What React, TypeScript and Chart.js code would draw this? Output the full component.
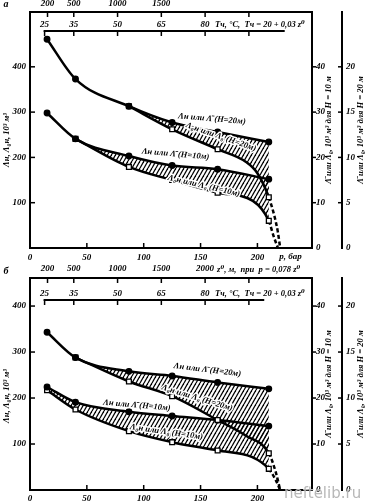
import React, { useEffect, useRef } from 'react';
import { Chart, registerables } from 'chart.js';

Chart.register(...registerables);

// ---------------- data ----------------
const pTicks = [0, 50, 100, 150, 200];
const leftTicks = [100, 200, 300, 400];
const right1Ticks = [0, 10, 20, 30, 40];
const right2Ticks = [0, 5, 10, 15, 20];
const zTicks = [200, 500, 1000, 1500, 2000, 2500];
const zLabelsA = ['200', '500', '1000', '1500', '', ''];
const zLabelsB = ['200', '500', '1000', '1500', '2000', ''];
const tTicks = [25, 35, 50, 65, 80, 95];
const tLabels = ['25', '35', '50', '65', '80', ''];
const pPerZ = 0.077; // p = 0,077 z
const T0 = 20; // Tч = 20 + 0,03 z
const TK = 0.03;
const markP = [15, 40, 87, 125, 165, 210];
const tailFromP = 210;

// panel а
const aUpper20P = [15, 40, 87, 125, 165, 210];
const aUpper20V = [461, 373, 313, 277, 256, 234];
const aLower20P = [87, 125, 165, 190, 200, 210, 215, 218, 220];
const aLower20V = [313, 262, 218, 190, 165, 112, 70, 35, 0];
const aUpper10P = [15, 40, 87, 125, 165, 210];
const aUpper10V = [298, 241, 203, 182, 174, 152];
const aLower10P = [40, 87, 125, 165, 196, 210, 214, 218];
const aLower10V = [241, 179, 150, 122, 104, 60, 28, 0];

// panel б
const bUpper20P = [15, 40, 87, 125, 165, 210];
const bUpper20V = [343, 288, 258, 248, 234, 220];
const bLower20P = [40, 87, 125, 165, 190, 210, 216, 220];
const bLower20V = [288, 236, 204, 152, 118, 80, 40, 0];
const bUpper10P = [15, 40, 87, 125, 165, 210];
const bUpper10V = [224, 191, 170, 161, 152, 139];
const bLower10P = [15, 40, 87, 125, 165, 195, 210, 216, 220];
const bLower10V = [217, 175, 128, 104, 86, 72, 46, 22, 0];

// curve labels
const labelTexts = ['Λн или Λ̄ (H=20м)', 'Λ₀н или Λ₀ (H=20м)', 'Λн или Λ̄ (H=10м)', 'Λ₀н или Λ₀ (H=10м)'];
const aLabelP = [160, 168, 128, 153];
const aLabelV = [285, 245, 207, 137];
const aLabelAngle = [5, 19, 5, 13];
const bLabelP = [156, 147, 94, 120];
const bLabelV = [261, 200, 184, 126];
const bLabelAngle = [7, 17, 5, 8];

const leftTitle = 'Λн, Λ₀н, 10³ м³';
const right1Title = 'Λ̄ или Λ₀, 10³ м³ для H = 10 м';
const right2Title = 'Λ̄ или Λ₀, 10³ м³ для H = 20 м';
const tCaption = 'Tч, °C,  Tч = 20 + 0,03 z⁰';
const zCaptionB = 'z⁰, м,  при  p = 0,078 z⁰';

// ---------------- helpers ----------------
const W = 369;
const FAMILY = "'Liberation Serif', 'DejaVu Serif', serif";
const TICK_FONT = { family: FAMILY, size: 9, style: 'italic' as const, weight: 'bold' as const };
const fontStr = (size: number) => `italic bold ${size}px ${FAMILY}`;

const xy = (ps: number[], vs: number[]) => ps.map((p, i) => ({ x: p, y: vs[i] }));

function makeHatch(): CanvasPattern | string {
  const c = document.createElement('canvas');
  const w = 4, h = 7;
  c.width = w; c.height = h;
  const g = c.getContext('2d');
  if (!g) return 'rgba(0,0,0,0.4)';
  g.strokeStyle = '#000';
  g.lineWidth = 1.25;
  for (let k = -1; k <= 1; k++) {
    g.beginPath();
    g.moveTo(k * w, h);
    g.lineTo((k + 1) * w, 0);
    g.stroke();
  }
  const pat = g.createPattern(c, 'repeat');
  return pat || 'rgba(0,0,0,0.4)';
}

function txt(ctx: CanvasRenderingContext2D, s: string, x: number, y: number, o: any = {}) {
  ctx.save();
  ctx.translate(x, y);
  ctx.rotate(((o.angle || 0) * Math.PI) / 180);
  ctx.font = fontStr(o.size || 9);
  ctx.textAlign = o.align || 'center';
  ctx.textBaseline = o.baseline || 'middle';
  if (o.halo) {
    ctx.strokeStyle = '#fff';
    ctx.lineWidth = 3;
    ctx.lineJoin = 'round';
    ctx.strokeText(s, 0, 0);
  }
  ctx.fillStyle = o.color || '#000';
  ctx.fillText(s, 0, 0);
  ctx.restore();
}

type Series = { p: number[]; v: number[]; open: boolean };
type PanelDef = {
  key: string;
  top: number;
  height: number;
  topH: number;
  bottomH: number;
  yMax: number;
  zLabels: string[];
  zPad: number;
  xPad: number;
  tOffset: number;
  tLineEndP: number;
  letter: string;
  letterY: number;
  series: Series[];
  bands: [number, number][];
  labelP: number[];
  labelV: number[];
  labelAngle: number[];
  pLabel: boolean;
  zCaption: string;
  watermark: boolean;
  leftTitleDy: number;
};

const panelA: PanelDef = {
  key: 'a', top: 0, height: 264, topH: 12, bottomH: 16, yMax: 521,
  zLabels: zLabelsA, zPad: 3, xPad: 4, tOffset: 19, tLineEndP: 224,
  letter: 'а', letterY: 4,
  series: [
    { p: aUpper20P, v: aUpper20V, open: false },
    { p: aLower20P, v: aLower20V, open: true },
    { p: aUpper10P, v: aUpper10V, open: false },
    { p: aLower10P, v: aLower10V, open: true },
  ],
  bands: [[0, 1], [2, 3]],
  labelP: aLabelP, labelV: aLabelV, labelAngle: aLabelAngle,
  pLabel: true, zCaption: '', watermark: false, leftTitleDy: 10,
};

const panelB: PanelDef = {
  key: 'b', top: 264, height: 239, topH: 14, bottomH: 13, yMax: 461,
  zLabels: zLabelsB, zPad: 4, xPad: 3, tOffset: 22, tLineEndP: 206,
  letter: 'б', letterY: 7,
  series: [
    { p: bUpper20P, v: bUpper20V, open: false },
    { p: bLower20P, v: bLower20V, open: true },
    { p: bUpper10P, v: bUpper10V, open: false },
    { p: bLower10P, v: bLower10V, open: true },
  ],
  bands: [[0, 1], [2, 3]],
  labelP: bLabelP, labelV: bLabelV, labelAngle: bLabelAngle,
  pLabel: false, zCaption: zCaptionB, watermark: true, leftTitleDy: 12,
};

function makeDecor(def: PanelDef, hatch: CanvasPattern | string) {
  return {
    id: 'decor_' + def.key,
    beforeDatasetsDraw(chart: any) {
      const ctx: CanvasRenderingContext2D = chart.ctx;
      const ca = chart.chartArea;
      ctx.save();
      ctx.beginPath();
      ctx.rect(ca.left, ca.top, ca.right - ca.left, ca.bottom - ca.top);
      ctx.clip();
      def.bands.forEach(([ui, li]) => {
        const up = chart.getDatasetMeta(ui).dataset;
        const lo = chart.getDatasetMeta(li).dataset;
        const upS = def.series[ui];
        const loS = def.series[li];
        const k = Math.max(0, upS.p.indexOf(loS.p[0]));
        const loEnd = loS.p.indexOf(tailFromP);
        ctx.beginPath();
        up.pathSegment(ctx, { start: k, end: up.points.length - 1, loop: false }, { move: true });
        lo.pathSegment(ctx, { start: 0, end: loEnd, loop: false }, { move: false, reverse: true });
        ctx.closePath();
        ctx.fillStyle = hatch as any;
        ctx.fill();
      });
      ctx.restore();
    },
    afterDraw(chart: any) {
      const ctx: CanvasRenderingContext2D = chart.ctx;
      const ca = chart.chartArea;
      const sx = chart.scales.x, sz = chart.scales.z, sy = chart.scales.y, s1 = chart.scales.y1, s2 = chart.scales.y2;
      ctx.save();
      ctx.strokeStyle = '#000';
      ctx.lineCap = 'butt';
      const seg = (x1: number, y1: number, x2: number, y2: number) => {
        ctx.beginPath(); ctx.moveTo(x1, y1); ctx.lineTo(x2, y2); ctx.stroke();
      };
      ctx.lineWidth = 1.5;
      sx.ticks.forEach((t: any) => { if (t.value > 0) { const px = sx.getPixelForValue(t.value); seg(px, ca.bottom, px, ca.bottom - 5); } });
      sz.ticks.forEach((t: any) => { const px = sz.getPixelForValue(t.value); seg(px, ca.top, px, ca.top + 5); });
      sy.ticks.forEach((t: any) => { const py = sy.getPixelForValue(t.value); seg(ca.left, py, ca.left + 5, py); });
      s1.ticks.forEach((t: any) => { if (t.value > 0) { const py = s1.getPixelForValue(t.value); seg(s1.left, py, s1.left + 4, py); } });
      s2.ticks.forEach((t: any) => { if (t.value > 0) { const py = s2.getPixelForValue(t.value); seg(s2.left, py, s2.left - 4, py); } });

      // temperature axis
      const yT = ca.top + def.tOffset;
      const tP = tTicks.map((t) => ((t - T0) / TK) * pPerZ);
      ctx.lineWidth = 2;
      seg(sx.getPixelForValue(tP[0]) - 1, yT, sx.getPixelForValue(def.tLineEndP), yT);
      ctx.lineWidth = 1.5;
      tP.forEach((p, i) => {
        const px = sx.getPixelForValue(p);
        seg(px, yT, px, yT + 5);
        if (tLabels[i]) txt(ctx, tLabels[i], px, yT - 2, { baseline: 'bottom' });
      });
      txt(ctx, tCaption, sx.getPixelForValue(tP[4]) + 10, yT - 2, { align: 'left', baseline: 'bottom', size: 8.5 });

      // curve labels
      def.labelP.forEach((p, i) => {
        txt(ctx, labelTexts[i], sx.getPixelForValue(p), sy.getPixelForValue(def.labelV[i]), { angle: def.labelAngle[i], halo: true, size: 8.5 });
      });

      // axis titles
      const midY = (ca.top + ca.bottom) / 2;
      txt(ctx, leftTitle, 7, midY + def.leftTitleDy, { angle: -90, size: 8.5 });
      txt(ctx, right1Title, s1.left + 17, midY, { angle: -90, size: 8.5 });
      txt(ctx, right2Title, s2.left + 19, midY, { angle: -90, size: 8.5 });

      // misc
      txt(ctx, def.letter, 6, def.letterY, { size: 10 });
      if (def.pLabel) txt(ctx, 'p, бар', sx.getPixelForValue(229), ca.bottom + def.xPad, { baseline: 'top' });
      if (def.zCaption) {
        txt(ctx, def.zCaption, sz.getPixelForValue(2000 * pPerZ) + 12, ca.top - def.zPad, { align: 'left', baseline: 'bottom', size: 8.5 });
      }
      if (def.watermark) {
        ctx.font = "15px 'DejaVu Sans', sans-serif";
        ctx.fillStyle = '#b8b8b8';
        ctx.textAlign = 'left';
        ctx.textBaseline = 'middle';
        ctx.fillText('neftelib.ru', 284, chart.height - 9);
      }
      ctx.restore();
    },
  };
}

function buildConfig(def: PanelDef): any {
  const hatch = makeHatch();
  const datasets = def.series.map((s) => ({
    data: xy(s.p, s.v),
    xAxisID: 'x',
    yAxisID: 'y',
    borderColor: '#000',
    borderWidth: 2.5,
    cubicInterpolationMode: 'monotone',
    fill: false,
    pointStyle: s.open ? 'rect' : 'circle',
    pointRadius: (c: any) => (c.raw && markP.includes(c.raw.x) ? (s.open ? 3.4 : 2.8) : 0),
    pointBackgroundColor: s.open ? '#fff' : '#000',
    pointBorderColor: '#000',
    pointBorderWidth: 1.3,
    segment: {
      borderDash: (c: any) => (c.p0.parsed.x >= tailFromP - 0.01 ? [4, 2.5] : undefined),
    },
  }));
  const border = { display: true, color: '#000', width: 2 };
  const grid = { display: false, drawTicks: false };
  const tickBase = { font: TICK_FONT, color: '#000', autoSkip: false, maxRotation: 0, minRotation: 0 };
  const setTicks = (vals: number[]) => (ax: any) => { ax.ticks = vals.map((v) => ({ value: v })); };
  return {
    type: 'line',
    data: { datasets },
    plugins: [makeDecor(def, hatch)],
    options: {
      animation: false,
      responsive: false,
      devicePixelRatio: 1,
      events: [],
      layout: { padding: 0 },
      plugins: { legend: { display: false }, tooltip: { enabled: false } },
      scales: {
        x: {
          type: 'linear', position: 'bottom', min: 0, max: 248,
          afterBuildTicks: setTicks(pTicks),
          afterFit: (s: any) => { s.height = def.bottomH; },
          grid, border, ticks: { ...tickBase, padding: def.xPad },
        },
        z: {
          type: 'linear', position: 'top', min: 0, max: 248,
          afterBuildTicks: setTicks(zTicks.map((z) => z * pPerZ)),
          afterFit: (s: any) => { s.height = def.topH; },
          grid, border, ticks: { ...tickBase, padding: def.zPad, callback: (_v: any, i: number) => def.zLabels[i] },
        },
        y: {
          type: 'linear', position: 'left', min: 0, max: def.yMax,
          afterBuildTicks: setTicks(leftTicks),
          afterFit: (s: any) => { s.width = 30; },
          grid, border, ticks: { ...tickBase, padding: 4 },
        },
        y1: {
          type: 'linear', position: 'right', min: 0, max: def.yMax / 10, weight: 0,
          afterBuildTicks: setTicks(right1Ticks),
          afterFit: (s: any) => { s.width = 30; },
          grid, border, ticks: { ...tickBase, padding: 4 },
        },
        y2: {
          type: 'linear', position: 'right', min: 0, max: def.yMax / 20, weight: 1,
          afterBuildTicks: setTicks(right2Ticks),
          afterFit: (s: any) => { s.width = 27; },
          grid, border, ticks: { ...tickBase, padding: 4 },
        },
      },
    },
  };
}

function PanelChart({ def }: { def: PanelDef }) {
  const ref = useRef<HTMLCanvasElement>(null);
  useEffect(() => {
    const canvas = ref.current;
    if (!canvas) return;
    const chart = new Chart(canvas, buildConfig(def));
    return () => chart.destroy();
  }, [def]);
  return (
    <canvas
      ref={ref}
      width={W}
      height={def.height}
      style={{ position: 'absolute', left: 0, top: def.top, width: W, height: def.height, display: 'block' }}
    />
  );
}

export default function App() {
  return (
    <div style={{ position: 'absolute', left: 0, top: 0, width: W, height: 503, background: '#fff', overflow: 'hidden' }}>
      <PanelChart def={panelA} />
      <PanelChart def={panelB} />
    </div>
  );
}
